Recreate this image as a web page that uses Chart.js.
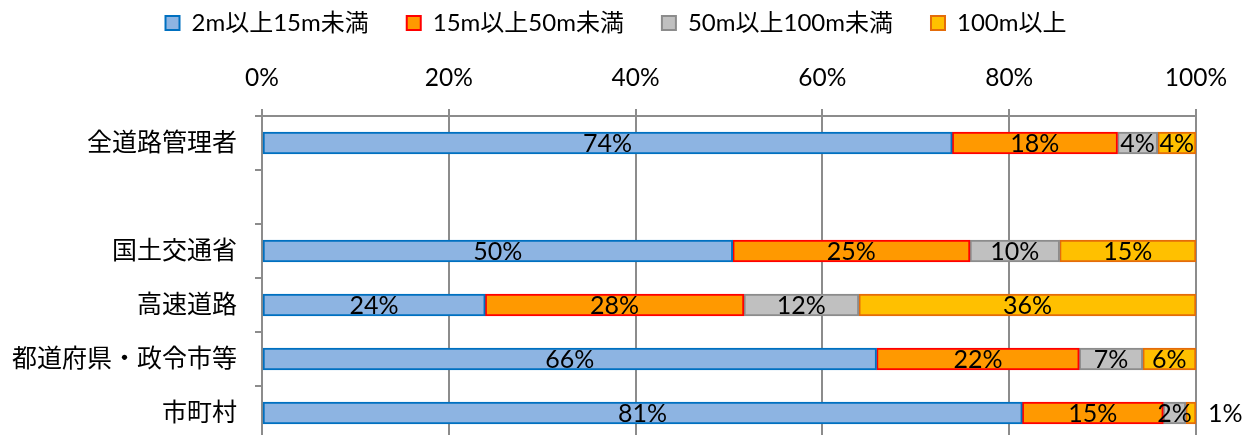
<!DOCTYPE html>
<html>
<head>
<meta charset="utf-8">
<script src="https://cdn.jsdelivr.net/npm/chart.js@4"></script>
<style>
  html, body { margin: 0; padding: 0; overflow: hidden; background: #fff; }
  canvas { display: block; }
</style>
</head>
<body>
<canvas id="chart" width="1251" height="441"></canvas>
<script>
// categories (blank row between the total and the breakdown)
var categories = ['全道路管理者', '', '国土交通省', '高速道路', '都道府県・政令市等', '市町村'];
var seriesNames = ['2m以上15m未満', '15m以上50m未満', '50m以上100m未満', '100m以上'];

// share per category, percent
var len2to15 = [73.9, null, 50.4, 23.9, 65.8, 81.4];
var len15to50 = [17.7, null, 25.4, 27.7, 21.7, 15.1];
var len50to100 = [4.3, null, 9.6, 12.3, 6.8, 2.4];
var len100plus = [4.1, null, 14.6, 36.1, 5.7, 1.1];

var xTicks = [0, 20, 40, 60, 80, 100];

var latin = 'Lato, "Noto Sans CJK JP", sans-serif';

// labels in the middle of each segment, tiny ones outside on the right
var segmentLabels = {
    id: 'segmentLabels',
    afterDatasetsDraw: function (chart) {
        var ctx = chart.ctx;
        var area = chart.chartArea;
        ctx.save();
        ctx.font = '25px ' + latin;
        ctx.fillStyle = '#000';
        ctx.textBaseline = 'middle';
        chart.data.datasets.forEach(function (ds, i) {
            var meta = chart.getDatasetMeta(i);
            meta.data.forEach(function (bar, j) {
                var v = ds.data[j];
                if (v === null || v === undefined) return;
                var txt = Math.round(v) + '%';
                if (v < 1.5) {
                    ctx.textAlign = 'left';
                    ctx.fillText(txt, area.right + 12, bar.y + 1);
                } else {
                    ctx.textAlign = 'center';
                    ctx.fillText(txt, (bar.base + bar.x) / 2, bar.y + 1);
                }
            });
        });
        ctx.restore();
    }
};

var ctx = document.getElementById('chart').getContext('2d');

var grafico = new Chart(ctx, {
    type: 'bar',
    data: {
        labels: categories,
        datasets: [
            { label: seriesNames[0], data: len2to15, backgroundColor: '#8DB4E2', borderColor: '#0070C0' },
            { label: seriesNames[1], data: len15to50, backgroundColor: '#FF9900', borderColor: '#FF0000' },
            { label: seriesNames[2], data: len50to100, backgroundColor: '#C0C0C0', borderColor: '#8C8C8C' },
            { label: seriesNames[3], data: len100plus, backgroundColor: '#FFC000', borderColor: '#E46C0A' }
        ]
    },
    options: {
        indexAxis: 'y',
        responsive: false,
        animation: false,
        datasets: {
            bar: { barThickness: 22, borderWidth: 2, borderSkipped: false }
        },
        layout: {
            // legend pulled up so its row sits near the top edge
            padding: { left: 0, right: 19, top: -27, bottom: 1 }
        },
        plugins: {
            legend: {
                position: 'top',
                labels: {
                    font: { size: 24, family: latin },
                    color: '#000',
                    boxWidth: 14,
                    boxHeight: 14,
                    padding: 38,
                    useBorderRadius: false
                }
            },
            tooltip: { enabled: false }
        },
        scales: {
            x: {
                position: 'top',
                stacked: true,
                min: 0,
                max: 100,
                afterBuildTicks: function (scale) {
                    scale.ticks = xTicks.map(function (v) { return { value: v }; });
                },
                ticks: {
                    font: { size: 24.5, family: latin },
                    color: '#000',
                    padding: 16,
                    callback: function (v) { return v + '%'; }
                },
                grid: { color: '#8C8C8C', lineWidth: 2, tickLength: 7 },
                border: { color: '#8C8C8C', width: 2 },
                afterFit: function (scale) {
                    scale.height = 71;
                    scale.paddingLeft = 0;
                    scale.paddingRight = 55;
                }
            },
            y: {
                stacked: true,
                ticks: {
                    font: { size: 25, family: latin },
                    color: '#000',
                    padding: 18
                },
                grid: { drawOnChartArea: false, color: '#8C8C8C', lineWidth: 2, tickLength: 7 },
                border: { color: '#8C8C8C', width: 2 },
                afterFit: function (scale) {
                    scale.width = 262;
                    scale.paddingTop = 0;
                    scale.paddingBottom = 0;
                }
            }
        }
    },
    plugins: [segmentLabels]
});
</script>
</body>
</html>
